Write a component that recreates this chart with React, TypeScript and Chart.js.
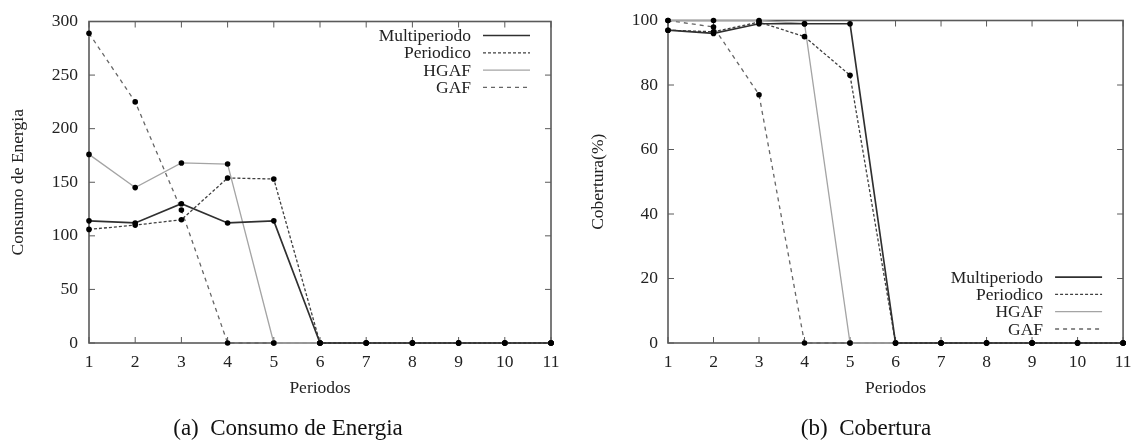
import React, { useEffect, useRef } from 'react';
import { Chart, registerables } from 'chart.js';

Chart.register(...registerables);

// ---------- data ----------
const periods = ['1', '2', '3', '4', '5', '6', '7', '8', '9', '10', '11'];
const seriesNames = ['Multiperiodo', 'Periodico', 'HGAF', 'GAF'];

const energyMultiperiodo = [114, 112, 130, 112, 114, 0, 0, 0, 0, 0, 0];
const energyPeriodico = [106, 110, 115, 154, 153, 0, 0, 0, 0, 0, 0];
const energyHGAF = [176, 145, 168, 167, 0, 0, 0, 0, 0, 0, 0];
const energyGAF = [289, 225, 124, 0, 0, 0, 0, 0, 0, 0, 0];

const coverMultiperiodo = [97, 96, 99, 99, 99, 0, 0, 0, 0, 0, 0];
const coverPeriodico = [97, 96.5, 99.5, 95, 83, 0, 0, 0, 0, 0, 0];
const coverHGAF = [100, 100, 100, 99, 0, 0, 0, 0, 0, 0, 0];
const coverGAF = [100, 98, 77, 0, 0, 0, 0, 0, 0, 0, 0];

const energyTicks = [0, 50, 100, 150, 200, 250, 300];
const coverTicks = [0, 20, 40, 60, 80, 100];

// ---------- styles ----------
const FONT = '"Liberation Serif", "Times New Roman", serif';
const lineColors = ['#303030', '#404040', '#a4a4a4', '#666666'];
const lineWidths = [1.7, 1.3, 1.3, 1.3];
const lineDashes: number[][] = [[], [3, 2], [], [4, 4]];

const framePlugin = {
  id: 'gnuFrame',
  beforeDatasetsDraw(chart: any) {
    const { ctx, chartArea } = chart;
    const { left, right, top, bottom } = chartArea;
    const xs = chart.scales.x;
    const ys = chart.scales.y;
    ctx.save();
    ctx.strokeStyle = '#5a5a5a';
    ctx.lineWidth = 1.6;
    ctx.strokeRect(left, top, right - left, bottom - top);
    ctx.lineWidth = 1;
    const tl = 6;
    xs.ticks.forEach((_t: any, i: number) => {
      const px = xs.getPixelForTick(i);
      ctx.beginPath();
      ctx.moveTo(px, bottom);
      ctx.lineTo(px, bottom - tl);
      ctx.moveTo(px, top);
      ctx.lineTo(px, top + tl);
      ctx.stroke();
    });
    ys.ticks.forEach((_t: any, i: number) => {
      const py = ys.getPixelForTick(i);
      ctx.beginPath();
      ctx.moveTo(left, py);
      ctx.lineTo(left + tl, py);
      ctx.moveTo(right, py);
      ctx.lineTo(right - tl, py);
      ctx.stroke();
    });
    ctx.restore();
  },
};

const legendPlugin = {
  id: 'gnuLegend',
  afterDatasetsDraw(chart: any, _args: any, opts: any) {
    const { ctx, chartArea } = chart;
    const rowH = 17.3;
    const n = chart.data.datasets.length;
    const sampleRight = chartArea.right - 21;
    const sampleLeft = sampleRight - 47;
    const textRight = sampleLeft - 12;
    const firstY =
      opts.position === 'bottom'
        ? chartArea.bottom - 14 - rowH * (n - 1)
        : chartArea.top + 14;
    ctx.save();
    ctx.font = `17.5px ${FONT}`;
    ctx.textAlign = 'right';
    ctx.textBaseline = 'middle';
    chart.data.datasets.forEach((ds: any, i: number) => {
      const y = firstY + i * rowH;
      ctx.fillStyle = '#222';
      ctx.fillText(ds.label, textRight, y + 1);
      ctx.beginPath();
      ctx.strokeStyle = ds.borderColor;
      ctx.lineWidth = ds.borderWidth;
      ctx.setLineDash(ds.borderDash || []);
      ctx.moveTo(sampleLeft, y);
      ctx.lineTo(sampleRight, y);
      ctx.stroke();
    });
    ctx.restore();
  },
};

interface PanelProps {
  series: number[][];
  ticks: number[];
  yTitle: string;
  yAxisWidth: number;
  yTitlePad: number;
  yLabelPad: number;
  rightPad: number;
  legendPosition: 'top' | 'bottom';
}

function Panel(props: PanelProps) {
  const ref = useRef<HTMLCanvasElement>(null);
  useEffect(() => {
    if (!ref.current) return;
    const t = props.ticks;
    const step = t[1] - t[0];
    const chart = new Chart(ref.current, {
      type: 'line',
      data: {
        labels: periods,
        datasets: props.series.map((vals, i) => ({
          label: seriesNames[i],
          data: vals,
          borderColor: lineColors[i],
          borderWidth: lineWidths[i],
          borderDash: lineDashes[i],
          pointRadius: 2.8,
          pointBackgroundColor: '#000',
          pointBorderColor: '#000',
          pointBorderWidth: 0,
          tension: 0,
          fill: false,
          clip: false as any,
        })),
      },
      options: {
        responsive: false,
        animation: false,
        devicePixelRatio: 1,
        layout: { padding: { left: 0, right: props.rightPad, top: 15, bottom: 0 } },
        plugins: {
          legend: { display: false },
          tooltip: { enabled: false },
          gnuLegend: { position: props.legendPosition },
        } as any,
        scales: {
          x: {
            type: 'category',
            offset: false,
            grid: { display: false, drawTicks: false },
            border: { display: false },
            ticks: {
              color: '#222',
              font: { family: FONT, size: 17.5 },
              padding: 8.5,
              maxRotation: 0,
              autoSkip: false,
            },
            title: {
              display: true,
              text: 'Periodos',
              color: '#222',
              font: { family: FONT, size: 17.5 },
              padding: { top: 0, bottom: 45.5 },
            },
            afterFit: (s: any) => {
              s.height = 101;
            },
          },
          y: {
            min: t[0],
            max: t[t.length - 1],
            grid: { display: false, drawTicks: false },
            border: { display: false },
            ticks: {
              stepSize: step,
              color: '#222',
              font: { family: FONT, size: 17.5 },
              padding: props.yLabelPad,
            },
            title: {
              display: true,
              text: props.yTitle,
              color: '#222',
              font: { family: FONT, size: 17.5 },
              padding: { top: props.yTitlePad, bottom: 0 },
            },
            afterFit: (s: any) => {
              s.width = props.yAxisWidth;
            },
          },
        },
      },
      plugins: [framePlugin, legendPlugin],
    });
    return () => chart.destroy();
  }, []);
  return <canvas ref={ref} width={570} height={444} />;
}

export default function App() {
  const captionStyle: React.CSSProperties = {
    position: 'absolute',
    top: 414,
    fontFamily: FONT,
    fontSize: 23,
    lineHeight: '28px',
    color: '#111',
    textAlign: 'center',
    whiteSpace: 'pre',
  };
  return (
    <div
      style={{
        position: 'fixed',
        left: 0,
        top: 0,
        width: 1140,
        height: 444,
        background: '#fff',
        overflow: 'hidden',
      }}
    >
      <div style={{ position: 'absolute', left: 0, top: 0 }}>
        <Panel
          series={[energyMultiperiodo, energyPeriodico, energyHGAF, energyGAF]}
          ticks={energyTicks}
          yTitle="Consumo de Energia"
          yAxisWidth={89}
          yTitlePad={8}
          yLabelPad={11}
          rightPad={19}
          legendPosition="top"
        />
      </div>
      <div style={{ position: 'absolute', left: 570, top: 0 }}>
        <Panel
          series={[coverMultiperiodo, coverPeriodico, coverHGAF, coverGAF]}
          ticks={coverTicks}
          yTitle="Cobertura(%)"
          yAxisWidth={98}
          yTitlePad={18}
          yLabelPad={10}
          rightPad={10}
          legendPosition="bottom"
        />
      </div>
      <div style={{ ...captionStyle, left: 0, width: 576 }}>{'(a)  Consumo de Energia'}</div>
      <div style={{ ...captionStyle, left: 581, width: 570 }}>{'(b)  Cobertura'}</div>
    </div>
  );
}
